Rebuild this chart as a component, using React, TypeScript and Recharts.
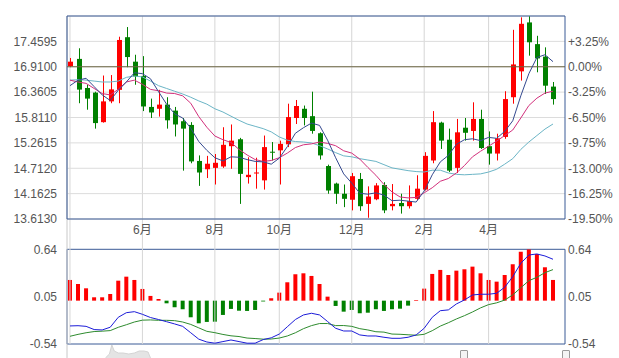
import React from 'react';
import {
  ComposedChart, Bar, Line, XAxis, YAxis, CartesianGrid, ReferenceLine,
  ReferenceArea, Cell, AreaChart, Area,
} from 'recharts';

// ---- weekly candles (index 0..60) ----
const opens = [16.92, 17.08, 16.45, 16.35, 15.71, 16.16, 16.41, 17.55, 17.02, 16.71, 16.04, 16.0, 16.09, 15.96, 15.73, 15.65, 14.87, 14.69, 14.72, 14.75, 15.19, 15.34, 14.52, 14.6, 14.45, 15.07, 15.1, 15.23, 15.8, 16.0, 15.84, 15.47, 14.76, 14.38, 14.16, 14.03, 14.48, 13.94, 14.04, 14.35, 13.89, 13.96, 13.89, 14.05, 14.25, 14.88, 15.7, 15.33, 14.72, 15.59, 15.52, 15.78, 15.19, 15.03, 15.39, 16.25, 16.81, 17.87, 17.4, 17.13, 16.48];
const highs = [17.1, 17.31, 16.52, 16.37, 16.72, 16.73, 17.56, 17.77, 17.17, 17.14, 16.22, 16.41, 16.25, 16.04, 15.8, 15.71, 14.99, 14.98, 15.02, 15.6, 15.66, 15.37, 14.95, 14.94, 15.42, 15.28, 15.31, 16.11, 16.19, 16.07, 16.37, 15.49, 14.79, 14.4, 14.36, 14.61, 14.61, 14.32, 14.39, 14.41, 14.37, 14.16, 14.34, 14.56, 15.06, 15.95, 15.72, 15.57, 15.78, 15.8, 16.14, 15.98, 15.51, 15.46, 16.38, 17.71, 17.98, 18.0, 17.58, 17.33, 16.58];
const lows = [16.9, 16.12, 15.98, 15.57, 15.7, 16.12, 16.12, 16.9, 16.52, 15.95, 15.8, 15.83, 15.57, 15.4, 14.66, 14.82, 14.33, 14.5, 14.36, 14.72, 14.7, 13.94, 14.38, 14.27, 14.25, 14.88, 14.36, 15.17, 15.67, 15.64, 15.46, 14.9, 14.16, 13.94, 13.87, 13.8, 13.79, 13.64, 14.02, 13.74, 13.8, 13.73, 13.84, 14.02, 14.23, 14.82, 15.13, 14.63, 14.61, 15.31, 15.31, 15.13, 14.79, 14.88, 15.35, 16.11, 16.61, 17.15, 16.79, 16.32, 16.09];
const closes = [17.02, 16.415, 16.22, 15.69, 16.16, 16.42, 17.49, 17.12, 16.7, 16.05, 15.92, 16.09, 15.75, 15.66, 15.57, 14.86, 14.62, 14.81, 14.83, 15.22, 15.31, 14.59, 14.57, 14.62, 15.17, 15.05, 15.24, 15.82, 16.06, 15.8, 15.52, 14.99, 14.23, 14.16, 14.05, 14.54, 13.89, 14.1, 14.34, 13.8, 13.94, 13.89, 14.0, 14.27, 14.98, 15.71, 15.31, 14.66, 15.49, 15.48, 15.78, 15.15, 15.03, 15.36, 16.21, 16.96, 17.84, 17.44, 17.09, 16.5, 16.21];

// ---- moving averages ----
const ma5 = [16.5, 16.62, 16.66, 16.48, 16.3, 16.18, 16.4, 16.58, 16.78, 16.76, 16.65, 16.37, 16.1, 15.89, 15.8, 15.58, 15.29, 15.1, 14.94, 14.87, 14.96, 14.95, 14.9, 14.86, 14.85, 14.8, 14.93, 15.18, 15.47, 15.59, 15.69, 15.64, 15.32, 14.94, 14.59, 14.39, 14.17, 14.15, 14.18, 14.13, 14.01, 14.02, 14.0, 13.98, 14.22, 14.57, 14.85, 14.99, 15.23, 15.33, 15.35, 15.31, 15.38, 15.36, 15.51, 15.74, 16.28, 16.76, 17.11, 17.17, 17.02];
const ma10 = [16.62, 16.58, 16.55, 16.44, 16.33, 16.3, 16.42, 16.58, 16.62, 16.53, 16.42, 16.39, 16.34, 16.33, 16.28, 16.12, 15.83, 15.6, 15.41, 15.33, 15.27, 15.12, 15.0, 14.9, 14.86, 14.88, 14.94, 15.04, 15.16, 15.22, 15.24, 15.28, 15.25, 15.2, 15.09, 15.04, 14.91, 14.73, 14.56, 14.36, 14.2, 14.09, 14.07, 14.08, 14.18, 14.29, 14.43, 14.49, 14.61, 14.77, 14.96, 15.08, 15.19, 15.3, 15.42, 15.54, 15.8, 16.07, 16.23, 16.34, 16.38];
const ma20 = [16.62, 16.63, 16.62, 16.6, 16.58, 16.58, 16.6, 16.68, 16.71, 16.69, 16.6, 16.5, 16.44, 16.38, 16.32, 16.25, 16.17, 16.1, 16.0, 15.93, 15.84, 15.75, 15.67, 15.62, 15.57, 15.5, 15.39, 15.32, 15.29, 15.28, 15.26, 15.2, 15.13, 15.05, 14.98, 14.96, 14.92, 14.89, 14.86, 14.79, 14.72, 14.69, 14.66, 14.64, 14.63, 14.67, 14.67, 14.61, 14.58, 14.57, 14.58, 14.59, 14.63, 14.69, 14.8, 14.92, 15.12, 15.28, 15.42, 15.56, 15.67];

// ---- MACD ----
const macdHist = [0.258, 0.208, 0.154, 0.042, 0.042, 0.083, 0.249, 0.299, 0.258, 0.146, 0.059, 0.021, -0.033, -0.082, -0.107, -0.207, -0.282, -0.265, -0.262, -0.178, -0.103, -0.125, -0.128, -0.116, -0.01, 0.03, 0.1, 0.229, 0.329, 0.341, 0.308, 0.208, 0.05, -0.066, -0.137, -0.116, -0.157, -0.15, -0.107, -0.128, -0.107, -0.1, -0.062, 0.008, 0.15, 0.333, 0.383, 0.32, 0.374, 0.391, 0.424, 0.341, 0.258, 0.237, 0.32, 0.454, 0.61, 0.64, 0.582, 0.416, 0.258];
const difVals = [-0.315, -0.312, -0.32, -0.36, -0.365, -0.331, -0.207, -0.15, -0.137, -0.17, -0.21, -0.235, -0.262, -0.29, -0.32, -0.4, -0.48, -0.515, -0.53, -0.51, -0.49, -0.51, -0.53, -0.53, -0.485, -0.463, -0.416, -0.325, -0.235, -0.178, -0.157, -0.178, -0.26, -0.344, -0.378, -0.378, -0.427, -0.44, -0.44, -0.456, -0.469, -0.469, -0.456, -0.427, -0.344, -0.207, -0.125, -0.115, -0.041, 0.009, 0.071, 0.08, 0.08, 0.092, 0.167, 0.299, 0.466, 0.569, 0.582, 0.557, 0.516];
const deaVals = [-0.444, -0.42, -0.4, -0.385, -0.38, -0.373, -0.332, -0.3, -0.266, -0.243, -0.24, -0.245, -0.245, -0.249, -0.266, -0.296, -0.339, -0.382, -0.399, -0.421, -0.438, -0.447, -0.466, -0.472, -0.48, -0.478, -0.466, -0.44, -0.4, -0.349, -0.311, -0.285, -0.285, -0.311, -0.31, -0.32, -0.349, -0.365, -0.387, -0.392, -0.416, -0.419, -0.425, -0.431, -0.419, -0.374, -0.317, -0.275, -0.228, -0.187, -0.141, -0.09, -0.049, -0.027, 0.007, 0.072, 0.161, 0.249, 0.291, 0.349, 0.387];

// ---- axes ----
const monthTickIdx = [9, 18, 26, 35, 44, 52];
const monthLabels = ['6月', '8月', '10月', '12月', '2月', '4月'];
const gridIdx = [0, 9, 18, 26, 35, 44, 52];
const priceTicks = [13.613, 14.1625, 14.712, 15.2615, 15.811, 16.3605, 16.91, 17.4595];
const priceDomain = [13.613, 18.009];
const basePrice = 16.91;
const macdTicks = [-0.54, 0.05, 0.64];
const macdDomain = [-0.54, 0.64];
const xDomain = [-0.37, 61.49];

// ---- navigator silhouette ----
const navIdx = [4.4, 4.9, 5.2, 5.5, 6.0, 6.6, 7.3, 8.0, 8.6, 9.2, 9.7, 10.0];
const navVal = [0, 4, 13, 7, 5, 5, 4, 5, 7, 7, 6, 0];

const RED = '#ff0000';
const GREEN = '#008000';
const FONT = "'Liberation Sans', Arial, 'Noto Sans CJK SC', sans-serif";
const tickStyle = { fill: '#555', fontSize: 12, fontFamily: FONT };

const candles = opens.map((o, i) => ({
  i,
  open: o,
  high: highs[i],
  low: lows[i],
  close: closes[i],
  range: [lows[i], highs[i]],
  ma5: ma5[i],
  ma10: ma10[i],
  ma20: ma20[i],
}));

const macdData = macdHist.map((h, i) => ({ i, hist: h, dif: difVals[i], dea: deaVals[i] }));
const navData = navIdx.map((x, k) => ({ x, v: navVal[k] }));

const Candle = (props: any) => {
  const { x, y, width, height, payload } = props;
  if (!payload || height == null) return null;
  const { open, close, high, low } = payload;
  const up = close >= open;
  const color = up ? RED : GREEN;
  const px = (v: number) => y + ((high - v) / (high - low)) * height;
  const cx = Math.round(x + width / 2) + 0.5;
  const top = px(Math.max(open, close));
  const bot = px(Math.min(open, close));
  return (
    <g>
      <line x1={cx} x2={cx} y1={y} y2={y + height} stroke={color} strokeWidth={1} />
      <rect x={cx - 2.5} y={top} width={5} height={Math.max(1, bot - top)} fill={color} />
    </g>
  );
};

const pct = (v: number) => {
  const p = (v / basePrice - 1) * 100;
  const s = Math.abs(p) < 0.005 ? '0.00' : p.toFixed(2);
  return (p > 0.005 ? '+' : '') + s + '%';
};

// value on the MACD scale that corresponds to top of the price panel
const macdTopExt = 3.547;
const macdBottomExt = -0.714;

export default function App() {
  return (
    <div style={{ position: 'absolute', left: 0, top: 0, width: 619, height: 358, background: '#fff', overflow: 'hidden' }}>
      {/* MACD panel (bottom layer, also draws the long vertical grid lines) */}
      <div style={{ position: 'absolute', left: 0, top: 0 }}>
        <ComposedChart width={619} height={358} data={macdData} margin={{ top: 249.3, right: 0, bottom: 14, left: 7 }}>
          <XAxis type="number" dataKey="i" domain={xDomain} hide allowDataOverflow />
          <YAxis
            domain={macdDomain}
            ticks={macdTicks}
            interval={0}
            width={60}
            axisLine={false}
            tickLine={false}
            tickSize={0}
            tickMargin={10}
            tick={tickStyle}
            allowDataOverflow
          />
          <YAxis
            yAxisId="r"
            orientation="right"
            domain={macdDomain}
            ticks={macdTicks}
            interval={0}
            width={54}
            axisLine={false}
            tickLine={false}
            tickSize={0}
            tickMargin={3}
            tick={{ ...tickStyle, textAnchor: 'start' }}
            allowDataOverflow
          />
          <ReferenceLine
            segment={[{ x: xDomain[0], y: macdBottomExt }, { x: xDomain[0], y: macdTopExt }]}
            stroke="#c8c8c8"
            ifOverflow="visible"
          />
          {gridIdx.map((g) => (
            <ReferenceLine
              key={g}
              segment={[{ x: g, y: macdDomain[0] }, { x: g, y: macdTopExt }]}
              stroke="#d6d6d6"
              ifOverflow="visible"
            />
          ))}
          <Bar dataKey="hist" barSize={4} isAnimationActive={false}>
            {macdData.map((d) => (
              <Cell key={d.i} fill={d.hist >= 0 ? RED : GREEN} />
            ))}
          </Bar>
          <Line type="linear" dataKey="dea" stroke="#2e8b2e" strokeWidth={1} dot={false} isAnimationActive={false} />
          <Line type="linear" dataKey="dif" stroke="#1c1cd8" strokeWidth={1} dot={false} isAnimationActive={false} />
          <ReferenceArea
            x1={xDomain[0]}
            x2={xDomain[1]}
            y1={macdDomain[0]}
            y2={macdDomain[1]}
            fill="none"
            fillOpacity={0}
            stroke="#3b5a96"
            strokeWidth={1}
            ifOverflow="visible"
          />
        </ComposedChart>
      </div>

      {/* navigator strip */}
      <div style={{ position: 'absolute', left: 0, top: 344 }}>
        <AreaChart width={619} height={14} data={navData} margin={{ top: 0, right: 54, bottom: 0, left: 67 }}>
          <XAxis type="number" dataKey="x" domain={xDomain} hide allowDataOverflow />
          <YAxis domain={[0, 14]} hide allowDataOverflow />
          <Area type="linear" dataKey="v" stroke="#d4d4d4" fill="#e4e4e4" fillOpacity={1} isAnimationActive={false} />
        </AreaChart>
      </div>
      <div style={{ position: 'absolute', left: 460, top: 350, width: 6, height: 10, border: '1px solid #9a9a9a', background: '#f4f4f4', borderRadius: 1 }} />
      <div style={{ position: 'absolute', left: 562, top: 350, width: 6, height: 10, border: '1px solid #9a9a9a', background: '#f4f4f4', borderRadius: 1 }} />

      {/* price panel (top layer) */}
      <div style={{ position: 'absolute', left: 0, top: 0 }}>
        <ComposedChart width={619} height={245} data={candles} margin={{ top: 16, right: 0, bottom: 6, left: 7 }}>
          <CartesianGrid horizontal vertical={false} stroke="#dcdcdc" />
          <XAxis
            type="number"
            dataKey="i"
            domain={xDomain}
            ticks={monthTickIdx}
            interval={0}
            tickFormatter={(v: number) => monthLabels[monthTickIdx.indexOf(v)] ?? ''}
            axisLine={false}
            tickLine={false}
            tickSize={0}
            tickMargin={6}
            height={20}
            tick={tickStyle}
            allowDataOverflow
          />
          <YAxis
            domain={priceDomain}
            ticks={priceTicks}
            interval={0}
            tickFormatter={(v: number) => v.toFixed(4)}
            width={60}
            axisLine={false}
            tickLine={false}
            tickSize={0}
            tickMargin={10}
            tick={tickStyle}
            allowDataOverflow
          />
          <YAxis
            yAxisId="r"
            orientation="right"
            domain={priceDomain}
            ticks={priceTicks}
            interval={0}
            tickFormatter={pct}
            width={54}
            axisLine={false}
            tickLine={false}
            tickSize={0}
            tickMargin={3}
            tick={{ ...tickStyle, textAnchor: 'start' }}
            allowDataOverflow
          />
          <ReferenceLine y={basePrice} stroke="#6b6442" strokeWidth={1} />
          <Line type="linear" dataKey="ma20" stroke="#6bb5c6" strokeWidth={1} dot={false} isAnimationActive={false} />
          <Line type="linear" dataKey="ma10" stroke="#d2307c" strokeWidth={1} dot={false} isAnimationActive={false} />
          <Line type="linear" dataKey="ma5" stroke="#34498f" strokeWidth={1} dot={false} isAnimationActive={false} />
          <Bar dataKey="range" barSize={5} shape={<Candle />} isAnimationActive={false} />
          <ReferenceArea
            x1={xDomain[0]}
            x2={xDomain[1]}
            y1={priceDomain[0]}
            y2={priceDomain[1]}
            fill="none"
            fillOpacity={0}
            stroke="#3b5a96"
            strokeWidth={1}
            ifOverflow="visible"
          />
        </ComposedChart>
      </div>
    </div>
  );
}
